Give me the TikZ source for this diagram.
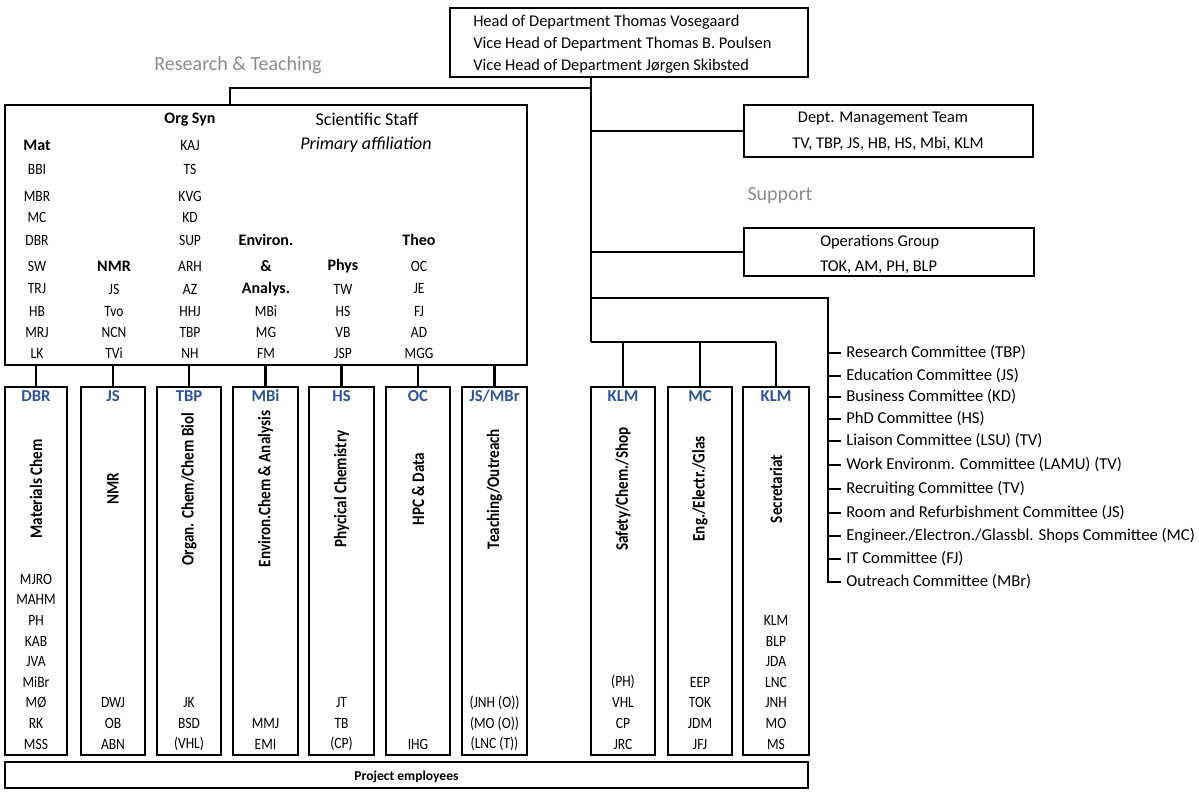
\documentclass[tikz,border=0pt]{standalone}
\usepackage{fontspec}
\setmainfont{Carlito}
\newfontfamily\condfont{Carlito}[FakeStretch=0.86]
\definecolor{hdblue}{RGB}{47,85,151}
\definecolor{graytxt}{RGB}{140,140,140}
\newcommand\mybox[5]{\node[box, minimum width={(#3-#1)*0.75pt}, minimum height={(#4-#2)*0.75pt}] (#5) at ({(#1+#3)/2},{(#2+#4)/2}) {};}
\begin{document}
\begin{tikzpicture}[x=0.75pt,y=-0.75pt,
  box/.style={draw, line width=2pt, inner sep=0pt, outer sep=0pt, fill=white},
  conn/.style={line width=2.2pt},
  txt/.style={inner sep=0pt, anchor=west, font=\fontsize{12.3}{14}\selectfont},
  nm/.style={inner sep=0pt, font=\condfont\fontsize{11.8}{13}\selectfont},
  bnm/.style={inner sep=0pt, font=\fontsize{12}{14}\selectfont\bfseries},
  hd/.style={inner sep=0pt, font=\fontsize{12.5}{14}\selectfont\bfseries, text=hdblue},
  vt/.style={inner sep=0pt, rotate=90, font=\condfont\fontsize{13.2}{15}\selectfont\bfseries},
  gr/.style={inner sep=0pt, font=\fontsize{15}{18}\selectfont, text=graytxt},
  mid/.style={inner sep=0pt, font=\fontsize{12.3}{14}\selectfont},
  com/.style={inner sep=0pt, anchor=west, font=\fontsize{12.5}{14}\selectfont},
]
\useasboundingbox (0,0) rectangle (1199,793);

% ---------- boxes ----------
\mybox{450}{8}{808}{77}{head}
\mybox{5}{105}{527}{365}{sci}
\mybox{744}{105}{1033}{157}{mgmt}
\mybox{744}{228}{1034}{276}{ops}
\mybox{5}{387}{67}{755}{c1}
\mybox{81}{387}{145}{755}{c2}
\mybox{157}{387}{221}{755}{c3}
\mybox{233}{387}{298}{755}{c4}
\mybox{309}{387}{374}{755}{c5}
\mybox{386}{387}{450}{755}{c6}
\mybox{462}{387}{527}{755}{c7}
\mybox{591}{387}{655}{755}{c8}
\mybox{668}{387}{732}{755}{c9}
\mybox{743}{387}{809}{755}{c10}
\mybox{5}{762}{808}{788}{proj}

% ---------- head ----------
\node[txt] (h1) at (473,22) {Head of Department Thomas Vosegaard};
\node[txt] (h2) at (473,44) {Vice Head of Department Thomas B. Poulsen};
\node[txt] (h3) at (473,66) {Vice Head of Department Jørgen Skibsted};

\node[gr] (rt) at (238,65) {Research \& Teaching};
\node[gr] (sup) at (780,196) {Support};

\node[mid] (m1) at (883,119) {Dept. Management Team};
\node[mid] (m2) at (888,144) {TV, TBP, JS, HB, HS, Mbi, KLM};
\node[com, font=\fontsize{12.3}{14}\selectfont] (o1) at (820,242) {Operations Group};
\node[com, font=\fontsize{12.3}{14}\selectfont] (o2) at (820,267) {TOK, AM, PH, BLP};

\node[inner sep=0pt, font=\fontsize{10.2}{12}\selectfont\bfseries] (pe) at ([yshift=-1.5pt]proj.center) {Project employees};

% ---------- scientific staff ----------
\node[inner sep=0pt, font=\fontsize{13.5}{16}\selectfont] (ss) at (367,119) {Scientific Staff};
\node[inner sep=0pt, font=\fontsize{13.5}{16}\selectfont\itshape] (pa) at (366,145) {Primary affiliation};

\node[bnm] (hmat) at (37,145) {Mat};
\foreach \t [count=\i] in {BBI,MBR,MC,DBR,SW,TRJ,HB,MRJ,LK}{
  \pgfmathsetmacro\yy{{169,196,217,240,266,289,311,332,353}[\i-1]}
  \node[nm] (mat\i) at (37,\yy) {\t};}
\node[bnm] (horg) at (190,120) {Org Syn};
\foreach \t [count=\i] in {KAJ,TS,KVG,KD,SUP,ARH,AZ,HHJ,TBP,NH}{
  \pgfmathsetmacro\yy{{146,169,196,217,240,266,289,311,332,353}[\i-1]}
  \node[nm] (org\i) at (190,\yy) {\t};}
\node[bnm] (hnmr) at (114,266) {NMR};
\foreach \t [count=\i] in {JS,Tvo,NCN,TVi}{
  \pgfmathsetmacro\yy{{289,311,332,353}[\i-1]}
  \node[nm] (nmr\i) at (114,\yy) {\t};}
\node[bnm] (henv1) at (266,240) {Environ.};
\node[bnm] (henv2) at (266,266) {\&};
\node[bnm] (henv3) at (266,289) {Analys.};
\foreach \t [count=\i] in {MBi,MG,FM}{
  \pgfmathsetmacro\yy{{311,332,353}[\i-1]}
  \node[nm] (env\i) at (266,\yy) {\t};}
\node[bnm] (hphys) at (343,266) {Phys};
\foreach \t [count=\i] in {TW,HS,VB,JSP}{
  \pgfmathsetmacro\yy{{289,311,332,353}[\i-1]}
  \node[nm] (phys\i) at (343,\yy) {\t};}
\node[bnm] (htheo) at (419,240) {Theo};
\foreach \t [count=\i] in {OC,JE,FJ,AD,MGG}{
  \pgfmathsetmacro\yy{{266,289,311,332,353}[\i-1]}
  \node[nm] (theo\i) at (419,\yy) {\t};}

% ---------- column headers and titles ----------
\foreach \c/\h/\v in {c1/{DBR}/{Materials Chem}, c2/{JS}/{NMR}, c3/{TBP}/{Organ. Chem/Chem Biol},
  c4/{MBi}/{Environ.Chem \& Analysis}, c5/{HS}/{Phycical Chemistry}, c6/{OC}/{HPC \& Data},
  c7/{JS/MBr}/{Teaching/Outreach}, c8/{KLM}/{Safety/Chem./Shop}, c9/{MC}/{Eng./Electr./Glas},
  c10/{KLM}/{Secretariat}}{
  \node[hd] (\c-h) at (\c.center |- 0,396) {\h};
  \node[vt] (\c-t) at (\c.center |- 0,489) {\v};
}

% ---------- column name lists (bottom up) ----------
\foreach \c/\l in {c1/{MSS,RK,MØ,MiBr,JVA,KAB,PH,MAHM,MJRO}, c2/{ABN,OB,DWJ}, c3/{(VHL),BSD,JK},
  c4/{EMI,MMJ}, c5/{(CP),TB,JT}, c6/{IHG}, c7/{(LNC (T)),(MO (O)),(JNH (O))},
  c8/{JRC,CP,VHL,(PH)}, c9/{JFJ,JDM,TOK,EEP}, c10/{MS,MO,JNH,LNC,JDA,BLP,KLM}}{
  \foreach \t [count=\i from 0] in \l {
    \node[nm] (\c-n\i) at (\c.center |- 0,{744-20.6*\i}) {\t};}
}

% ---------- committees ----------
\foreach \t [count=\i] in {Research Committee (TBP), Education Committee (JS), Business Committee (KD),
  PhD Committee (HS), Liaison Committee (LSU) (TV), Work Environm. Committee (LAMU) (TV),
  Recruiting Committee (TV), Room and Refurbishment Committee (JS),
  Engineer./Electron./Glassbl. Shops Committee (MC), IT Committee (FJ), Outreach Committee (MBr)}{
  \pgfmathsetmacro\yy{{353,376,397,419,441,465,489,513,536,559,582}[\i-1]}
  \node[com] (com\i) at (846,\yy) {\t};}

% ---------- connectors ----------
\coordinate (j1) at (591,88);
\coordinate (jl) at (230,88);
\coordinate (j4) at (591,342);
\coordinate (jr) at (776,342);
\coordinate (c0) at (591,298);
\coordinate (cv) at (828,298);
\draw[conn] (head.south -| j1) -- (j4);
\draw[conn] (j1) -- (jl) -- (jl |- sci.north);
\draw[conn] (mgmt.west -| j1) -- (mgmt.west);
\draw[conn] (ops.west -| j1) -- (ops.west);
\draw[conn] (j4) -- (jr);
\foreach \c in {c8,c9,c10} \draw[conn] (\c.north |- j4) -- (\c.north);
\foreach \c in {c1,c2,c3,c4,c5,c6,c7} \draw[conn] (\c.north |- sci.south) -- (\c.north);
\draw[conn] (c0) -- (cv) -- (cv |- com11.west) -- ++(13,0);
\foreach \i in {1,...,10} \draw[conn] (cv |- com\i.west) -- ++(13,0);
\end{tikzpicture}
\end{document}
